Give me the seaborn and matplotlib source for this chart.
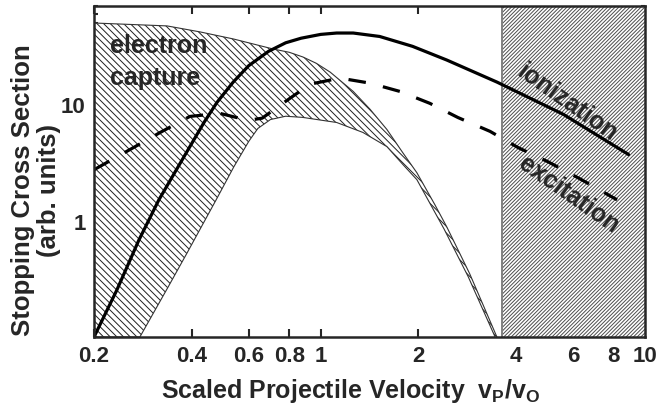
import numpy as np
import pandas as pd
import seaborn as sns
import matplotlib
matplotlib.use("Agg")
import matplotlib.pyplot as plt
from matplotlib.ticker import FixedLocator, NullLocator, LogLocator, NullFormatter

# ---------------- data ----------------
ion_v = [0.2, 0.235, 0.275, 0.317, 0.379, 0.437, 0.479, 0.537, 0.60, 0.69, 0.78, 0.87,
         1.0, 1.12, 1.26, 1.52, 1.92, 2.45, 3.5, 5.6, 8.9]
ion_s = [0.1, 0.252, 0.68, 1.51, 3.55, 7.0, 10.4, 15.5, 21.5, 28.5, 33.8, 37.0,
         39.9, 41.0, 41.0, 38.3, 31.5, 24.0, 15.5, 8.2, 3.7]

exc_v = [0.2, 0.258, 0.32, 0.395, 0.489, 0.597, 0.66, 0.749, 0.927, 1.147, 1.42, 1.756,
         2.17, 2.65, 3.33, 4.06, 5.02, 6.30, 8.2]
exc_s = [2.74, 4.08, 5.73, 7.87, 8.36, 7.28, 7.6, 9.8, 14.9, 16.8, 15.2, 12.9,
         10.2, 7.7, 5.85, 4.25, 3.21, 2.29, 1.51]

cap_upper_v = [0.2, 0.336, 0.425, 0.537, 0.713, 0.80, 0.882, 0.97, 1.07, 1.26, 1.42, 1.60,
               1.79, 1.98, 2.25, 2.45, 2.88, 3.50]
cap_upper_s = [50, 47.2, 41.9, 36.5, 29.9, 28.0, 25.5, 22.5, 18.9, 12.9, 9.06, 6.08,
               3.85, 2.58, 1.37, 0.88, 0.35, 0.099]
cap_lower_v = [0.2, 0.277, 0.338, 0.387, 0.439, 0.476, 0.54, 0.60, 0.64, 0.70, 0.78,
               0.88, 1.12, 1.35, 1.60, 1.80, 1.98, 2.40, 2.85, 3.45]
cap_lower_s = [0.1, 0.1, 0.267, 0.526, 1.0, 1.51, 2.91, 4.8, 6.2, 7.4, 7.9,
               7.72, 6.98, 5.73, 4.33, 3.0, 2.25, 0.85, 0.33, 0.1]

shade_start = 3.63
x_ticks = [0.2, 0.4, 0.6, 0.8, 1, 2, 4, 6, 8, 10]
x_tick_labels = ["0.2", "0.4", "0.6", "0.8", "1", "2", "4", "6", "8", "10"]
y_ticks = [1, 10]
y_tick_labels = ["1", "10"]
x_range = (0.2, 10)
y_range = (0.1, 70)

# ---------------- style ----------------
sns.set_style("ticks")
plt.rcParams["font.family"] = ["Liberation Sans", "DejaVu Sans"]
plt.rcParams["font.weight"] = "bold"
plt.rcParams["mathtext.fontset"] = "custom"
plt.rcParams["mathtext.bf"] = "Liberation Sans:bold"
plt.rcParams["mathtext.rm"] = "Liberation Sans:bold"
plt.rcParams["mathtext.it"] = "Liberation Sans:bold"
plt.rcParams["hatch.linewidth"] = 0.7

fig = plt.figure(figsize=(6.57, 4.14), dpi=100)
ax = fig.add_axes([94 / 657, 1 - 338 / 414, 551 / 657, 331 / 414])
ax.set_xscale("log")
ax.set_yscale("log")

# electron capture band
poly_v = cap_upper_v + cap_lower_v[::-1]
poly_s = cap_upper_s + cap_lower_s[::-1]
ax.fill(poly_v, poly_s, facecolor="white", edgecolor="#1f1f1f",
        hatch="\\" * 5, linewidth=0, zorder=1)
ax.plot(cap_upper_v, cap_upper_s, color="#333333", lw=0.8, zorder=2)
ax.plot(cap_lower_v, cap_lower_s, color="#333333", lw=0.8, zorder=2)

# high-velocity shaded region
ax.axvspan(shade_start, x_range[1], facecolor="white", edgecolor="#4d4d4d",
           hatch="/" * 9, linewidth=0, zorder=1)
ax.axvline(shade_start, color="#808080", lw=1.4, zorder=2)

# curves
df_ion = pd.DataFrame({"v": ion_v, "s": ion_s})
df_exc = pd.DataFrame({"v": exc_v, "s": exc_s})
sns.lineplot(data=df_ion, x="v", y="s", color="black", lw=2.3, ax=ax, zorder=3)
sns.lineplot(data=df_exc, x="v", y="s", color="black", lw=2.3,
             linestyle=(0, (5.5, 5.5)), ax=ax, zorder=3)

# axes
ax.set_xlim(*x_range)
ax.set_ylim(*y_range)
ax.xaxis.set_major_locator(FixedLocator(x_ticks))
ax.set_xticklabels(x_tick_labels)
ax.xaxis.set_minor_locator(NullLocator())
ax.yaxis.set_major_locator(FixedLocator(y_ticks))
ax.set_yticklabels(y_tick_labels)
ax.yaxis.set_minor_locator(LogLocator(base=10, subs=np.arange(2, 10) * 1.0))
ax.yaxis.set_minor_formatter(NullFormatter())
ax.tick_params(which="both", direction="in", top=True, right=True, width=1.5,
               labelsize=16, pad=6)
ax.tick_params(which="major", length=6)
ax.tick_params(which="minor", length=3)
for sp in ax.spines.values():
    sp.set_linewidth(1.8)
    sp.set_zorder(5)

ax.set_xlabel(r"Scaled Projectile Velocity  $\mathbf{v_P/v_O}$", fontsize=18,
              fontweight="bold")
ax.xaxis.set_label_coords(0.465, -0.118)
ax.set_ylabel("Stopping Cross Section\n(arb. units)", fontsize=18.5,
              fontweight="bold", linespacing=1.15)
ax.yaxis.set_label_coords(-0.059, 0.447)

# annotations
ax.text(0.224, 28.1, "electron", fontsize=18, fontweight="bold", ha="left",
        va="baseline", zorder=4)
ax.text(0.224, 14.9, "capture", fontsize=18, fontweight="bold", ha="left",
        va="baseline", zorder=4)
ax.text(5.75, 10.6, "ionization", fontsize=18, fontweight="bold", rotation=-35,
        rotation_mode="anchor", ha="center", va="center", zorder=4)
ax.text(5.83, 1.70, "excitation", fontsize=18, fontweight="bold", rotation=-35,
        rotation_mode="anchor", ha="center", va="center", zorder=4)

fig.savefig("out.png", dpi=100)
